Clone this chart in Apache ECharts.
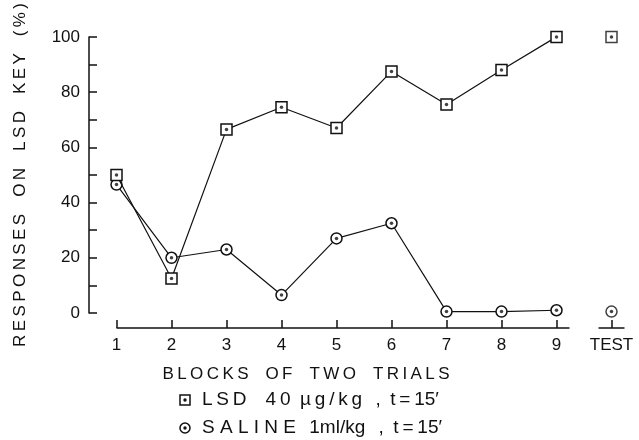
<!DOCTYPE html>
<html>
<head>
<meta charset="utf-8">
<script src="https://cdn.jsdelivr.net/npm/echarts@6/dist/echarts.min.js"></script>
<style>
  html, body { margin: 0; padding: 0; background: #fff; }
  #chart { width: 639px; height: 440px; }
</style>
</head>
<body>
<div id="chart"></div>
<script>
// blocks of two trials, then the test session
const categories = ['1', '2', '3', '4', '5', '6', '7', '8', '9', 'TEST']
const lsdBlocks = [50, 12.5, 66.5, 74.5, 67, 87.5, 75.5, 88, 100]
const lsdTest = 100
const salineBlocks = [46.5, 20, 23, 6.5, 27, 32.5, 0.5, 0.5, 1]
const salineTest = 0.5
const yLabelValues = [0, 20, 40, 60, 80, 100]

const spaced = s => s.split('').join('\u2009')
const font = '"Liberation Sans", "DejaVu Sans", sans-serif'
const ink = '#111'

const tail = '\u2002\u2009,\u2002t\u2009=\u200915\u2032'
const lsdName = 'L\u2009S\u2009D\u2003' + '4\u20090\u2002\u00b5\u2009g\u2009/\u2009k\u2009g' + tail
const salineName = 'S A L I N E\u2002\u2009' + '1ml/kg' + tail

const pad = (arr, v) => arr.concat([v])
const testOnly = v => categories.map(c => (c === 'TEST' ? v : '-'))

let chart = echarts.init(document.getElementById('chart'))

let option = {
  backgroundColor: '#fff',
  animation: false,
  textStyle: { fontFamily: font, color: ink },
  // grid 0 holds the data, grid 1 only carries the lowered x axis
  grid: [
    { left: 89, top: 28, width: 552, height: 285 },
    { left: 89, top: 28, width: 552, height: 300 }
  ],
  xAxis: [
    {
      type: 'category',
      gridIndex: 0,
      data: categories,
      boundaryGap: true,
      show: false
    },
    {
      type: 'category',
      gridIndex: 1,
      data: categories,
      boundaryGap: true,
      axisLine: { show: false },
      axisTick: { show: true, inside: true, length: 8, alignWithLabel: true, interval: 0, lineStyle: { color: ink, width: 1.5 } },
      axisLabel: { interval: 0, fontSize: 17, color: ink, margin: 9 },
      splitLine: { show: false },
      name: spaced('BLOCKS') + '\u2003' + spaced('OF') + '\u2003' + spaced('TWO') + '\u2003' + spaced('TRIALS'),
      nameLocation: 'middle',
      nameGap: 38,
      nameTextStyle: { fontSize: 17, color: ink, padding: [0, 116, 0, 0] }
    }
  ],
  yAxis: [
    {
      type: 'value',
      gridIndex: 0,
      min: 0,
      max: 100,
      interval: 10,
      axisLine: { show: true, lineStyle: { color: ink, width: 1.5 } },
      axisTick: { show: true, inside: true, length: 8, lineStyle: { color: ink, width: 1.5 } },
      axisLabel: {
        fontSize: 17,
        color: ink,
        margin: 9,
        formatter: v => (yLabelValues.indexOf(v) >= 0 ? String(v) : '')
      },
      splitLine: { show: false },
      name: spaced('RESPONSES') + '\u2003' + spaced('ON') + '\u2003' + spaced('LSD') + '\u2003' + spaced('KEY') + '\u2003' + spaced('(%)'),
      nameLocation: 'middle',
      nameRotate: 90,
      nameGap: 60,
      nameTextStyle: { fontSize: 17, color: ink }
    },
    { type: 'value', gridIndex: 1, show: false }
  ],
  series: [
    {
      name: 'saline',
      type: 'line',
      data: pad(salineBlocks, '-'),
      symbol: 'circle',
      symbolSize: 11,
      showAllSymbol: true,
      lineStyle: { color: ink, width: 1.2 },
      itemStyle: { color: '#fff', borderColor: ink, borderWidth: 1.5 },
      z: 2
    },
    {
      name: 'lsd',
      type: 'line',
      data: pad(lsdBlocks, '-'),
      symbol: 'rect',
      symbolSize: 11,
      showAllSymbol: true,
      lineStyle: { color: ink, width: 1.2 },
      itemStyle: { color: '#fff', borderColor: ink, borderWidth: 1.5 },
      z: 3
    },
    {
      name: 'saline test',
      type: 'scatter',
      data: testOnly(salineTest),
      symbol: 'circle',
      symbolSize: 11,
      itemStyle: { color: '#fff', borderColor: ink, borderWidth: 1.5 },
      z: 3
    },
    {
      name: 'lsd test',
      type: 'scatter',
      data: testOnly(lsdTest),
      symbol: 'rect',
      symbolSize: 11,
      itemStyle: { color: '#fff', borderColor: ink, borderWidth: 1.5 },
      z: 3
    },
    {
      name: 'saline dots',
      type: 'scatter',
      data: pad(salineBlocks, salineTest),
      symbol: 'circle',
      symbolSize: 3.5,
      itemStyle: { color: ink },
      z: 5
    },
    {
      name: 'lsd dots',
      type: 'scatter',
      data: pad(lsdBlocks, lsdTest),
      symbol: 'circle',
      symbolSize: 3.5,
      itemStyle: { color: ink },
      z: 5
    }
  ]
}

chart.setOption(option)

// broken x axis line: blocks 1-9, then a short piece under TEST
let p1 = chart.convertToPixel({ xAxisIndex: 1 }, '1')
let p9 = chart.convertToPixel({ xAxisIndex: 1 }, '9')
let pt = chart.convertToPixel({ xAxisIndex: 1 }, 'TEST')
let ay = 28 + 300

// key below the axis title
const keyX = 185
const keyY = [400, 428]
const keyText = (txt, y) => ({
  type: 'text', left: 202, top: y - 10,
  style: { text: txt, fill: ink, font: '19px ' + font }
})

chart.setOption({
  graphic: [
    { type: 'line', shape: { x1: p1, y1: ay, x2: p9 + 13, y2: ay }, style: { stroke: ink, lineWidth: 1.5 } },
    { type: 'line', shape: { x1: pt - 13, y1: ay, x2: pt + 13, y2: ay }, style: { stroke: ink, lineWidth: 1.5 } },
    { type: 'rect', shape: { x: keyX - 5, y: keyY[0] - 5, width: 10, height: 10 }, style: { fill: '#fff', stroke: ink, lineWidth: 1.5 } },
    { type: 'circle', shape: { cx: keyX, cy: keyY[0], r: 1.7 }, style: { fill: ink } },
    { type: 'circle', shape: { cx: keyX, cy: keyY[1], r: 5 }, style: { fill: '#fff', stroke: ink, lineWidth: 1.5 } },
    { type: 'circle', shape: { cx: keyX, cy: keyY[1], r: 1.7 }, style: { fill: ink } },
    keyText(lsdName, keyY[0]),
    keyText(salineName, keyY[1])
  ]
})
</script>
</body>
</html>
